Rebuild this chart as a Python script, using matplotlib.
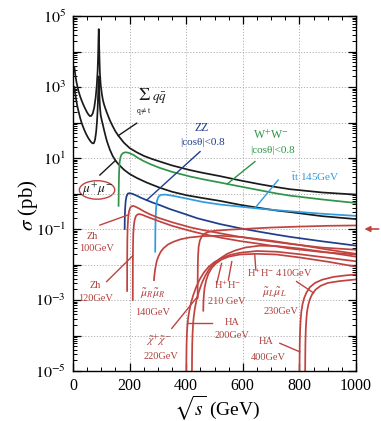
import matplotlib
matplotlib.use("Agg")
import matplotlib.pyplot as plt
from matplotlib.patches import Ellipse
from matplotlib.ticker import MultipleLocator, LogLocator, NullFormatter, FixedLocator

plt.rcParams['font.family'] = ['Liberation Serif', 'DejaVu Serif']
plt.rcParams['mathtext.fontset'] = 'stix'

# ---------------- data (sqrt(s) in GeV, sigma in pb) ----------------
had_x = [5, 8, 12, 16, 20, 25, 30, 35, 40, 45, 50, 55, 60, 65, 70, 75, 80, 84, 87, 89, 90, 91,
         92, 93, 95, 98, 102, 106, 110, 115, 120, 130, 140, 150, 160, 180, 200, 225, 250, 280,
         307, 350, 413, 460, 519, 590, 661, 720, 767, 880, 1000]
had_y = [3550, 2240, 1410, 1000, 741, 550, 427, 339, 275, 229, 191, 166, 151, 155, 182, 263,
         501, 1120, 2820, 8910, 22400, 42700,
         22400, 8910, 2510, 1120, 631, 417, 316, 240, 186, 117, 79.4, 56.2, 42.7, 26.9, 19.1,
         14.5, 11.5, 9.33, 7.94, 6.17, 4.57, 3.80, 3.09, 2.34, 1.82, 1.51, 1.32, 1.07, 0.93]

mumu_x = [5, 8, 12, 16, 20, 25, 30, 35, 40, 45, 50, 55, 60, 65, 70, 74, 78, 82, 85, 87, 89, 90,
          91, 92, 93, 95, 98, 102, 106, 110, 115, 120, 130, 140, 150, 160, 180, 200, 225, 260,
          307, 350, 402, 460, 519, 590, 661, 720, 767, 880, 1000]
mumu_y = [1000, 631, 398, 269, 200, 138, 100, 77.6, 61.7, 50.1, 41.7, 35.5, 30.9, 27.5, 25.7,
          26.3, 33.1, 56.2, 112, 224, 708, 1410,
          2000, 1410, 708, 282, 158, 112, 83.2, 60.3, 41.7, 29.5, 17.4, 11.5, 8.51, 6.76, 4.68,
          3.55, 2.75, 2.04, 1.45, 1.12, 0.89, 0.74, 0.62, 0.48, 0.39, 0.33, 0.30, 0.23, 0.19]

ww_x = [161, 161.5, 162, 163, 164.5, 167, 171, 177, 185, 195, 213, 230, 248, 275, 307, 350,
        413, 460, 519, 590, 661, 720, 767, 880, 1000]
ww_y = [0.45, 1.0, 2.0, 4.17, 7.08, 10, 12.3, 13.8, 14.5, 14.1, 12.3, 10, 8.32, 6.61, 5.25,
        4.07, 3.02, 2.51, 2.04, 1.58, 1.23, 1.0, 0.87, 0.68, 0.54]

zz_x = [182.5, 183, 184, 186, 189, 194, 200, 210, 225, 240, 260, 280, 307, 340, 380, 440, 519,
        590, 661, 720, 767, 880, 1000]
zz_y = [0.10, 0.20, 0.355, 0.60, 0.83, 1.0, 1.02, 0.98, 0.87, 0.76, 0.65, 0.56, 0.47, 0.37,
        0.29, 0.20, 0.138, 0.105, 0.083, 0.069, 0.060, 0.045, 0.034]

tt_x = [290.5, 291, 292, 294, 297, 302, 310, 325, 350, 400, 460, 519, 590, 661, 720, 767, 880,
        1000]
tt_y = [0.023, 0.089, 0.224, 0.417, 0.631, 0.813, 0.912, 0.933, 0.871, 0.724, 0.575, 0.49,
        0.427, 0.372, 0.339, 0.316, 0.269, 0.234]

zh100_x = [191.2, 191.5, 192, 193, 195, 198, 202, 207, 213, 220, 235, 250, 270, 300, 350, 413,
           460, 519, 590, 661, 767, 880, 1000]
zh100_y = [0.0018, 0.0158, 0.050, 0.112, 0.209, 0.316, 0.398, 0.437, 0.447, 0.427, 0.372,
           0.316, 0.263, 0.209, 0.155, 0.112, 0.093, 0.076, 0.060, 0.049, 0.038, 0.030, 0.026]

zh120_x = [211.2, 211.5, 212, 213, 215, 218, 222, 228, 235, 245, 260, 280, 307, 350, 413, 460,
           519, 590, 661, 767, 880, 1000]
zh120_y = [0.0010, 0.010, 0.0316, 0.0708, 0.126, 0.182, 0.229, 0.257, 0.263, 0.251, 0.224,
           0.195, 0.162, 0.123, 0.089, 0.072, 0.0575, 0.0457, 0.038, 0.0282, 0.0224, 0.0191]

smuR_x = [286, 288, 291, 296, 302, 310, 320, 335, 355, 380, 410, 460, 520, 600, 700, 800, 900,
          1000]
smuR_y = [0.00363, 0.00525, 0.00794, 0.0126, 0.017, 0.0229, 0.0288, 0.0363, 0.0437, 0.0513,
          0.0575, 0.0631, 0.0646, 0.0589, 0.0468, 0.0355, 0.0263, 0.020]

chi_x = [440.3, 440.6, 441, 442, 444, 448, 455, 465, 480, 500, 550, 600, 700, 800, 900, 1000]
chi_y = [0.00112, 0.00398, 0.0089, 0.0178, 0.0316, 0.0468, 0.0617, 0.0741, 0.0832, 0.0891,
         0.0955, 0.10, 0.11, 0.117, 0.123, 0.126]

ha200_x = [400.3, 400.7, 401.3, 402.5, 404.5, 407, 411, 417, 425, 435, 447, 462, 480, 500, 525,
           555, 590, 650, 720, 800, 900, 1000]
ha200_y = [1e-5, 2.5e-5, 5.6e-5, 1.12e-4, 2.0e-4, 3.16e-4, 5.0e-4, 8.3e-4, 1.38e-3, 2.29e-3,
           3.72e-3, 5.89e-3, 8.71e-3, 0.0117, 0.0151, 0.0186, 0.0214, 0.024, 0.0229, 0.0195,
           0.0155, 0.0123]

hpm210_x = [420.3, 420.7, 421.3, 422.5, 424.5, 427, 431, 437, 445, 455, 467, 482, 500, 520, 545,
            575, 610, 660, 720, 800, 900, 1000]
hpm210_y = [1e-5, 2.5e-5, 5.6e-5, 1.12e-4, 2.24e-4, 3.55e-4, 6.03e-4, 1.05e-3, 1.74e-3,
            2.95e-3, 4.79e-3, 7.59e-3, 0.011, 0.0148, 0.020, 0.0251, 0.0302, 0.0339, 0.0331,
            0.0282, 0.0219, 0.0166]

smuL_x = [460.3, 461, 462.5, 465, 470, 478, 490, 505, 525, 550, 590, 650, 720, 800, 900, 1000]
smuL_y = [5.0e-4, 8.9e-4, 1.41e-3, 2.19e-3, 3.47e-3, 5.37e-3, 7.94e-3, 0.0107, 0.0138, 0.0166,
          0.0191, 0.020, 0.0191, 0.0158, 0.012, 0.0087]

ha400_x = [800.3, 800.7, 801.3, 802.5, 804.5, 807, 811, 817, 825, 837, 855, 880, 920, 960, 1000]
ha400_y = [1e-5, 2.5e-5, 6.3e-5, 1.41e-4, 2.82e-4, 4.79e-4, 7.59e-4, 1.15e-3, 1.62e-3, 2.29e-3,
           3.02e-3, 3.72e-3, 4.47e-3, 4.9e-3, 5.25e-3]

hpm410_x = [820.3, 820.7, 821.3, 822.5, 824.5, 827, 831, 837, 845, 857, 875, 900, 940, 1000]
hpm410_y = [1e-5, 2.5e-5, 6.3e-5, 1.41e-4, 2.82e-4, 4.68e-4, 7.08e-4, 1.05e-3, 1.45e-3,
            1.95e-3, 2.51e-3, 3.02e-3, 3.39e-3, 3.8e-3]

x_ticks = [0, 200, 400, 600, 800, 1000]
y_ticks = [1e-5, 1e-4, 1e-3, 1e-2, 1e-1, 1e0, 1e1, 1e2, 1e3, 1e4, 1e5]
y_ticklabels = [r'$10^{-5}$', '', r'$10^{-3}$', '', r'$10^{-1}$', '', r'$10^{1}$', '',
                r'$10^{3}$', '', r'$10^{5}$']

# ---------------- style ----------------
BLACK = '#1a1a1a'
GREEN = '#2f9448'
LBLUE = '#2f9be0'
DBLUE = '#1f3d8c'
RED = '#c0433f'
TRED = '#b0403c'

fig = plt.figure(figsize=(3.81, 4.21), dpi=100)
ax = fig.add_axes([73 / 381, 50 / 421, 283 / 381, 355 / 421])
ax.set_yscale('log')
ax.set_xlim(0, 1000)
ax.set_ylim(1e-5, 1e5)

lw = 1.25
ax.plot(had_x, had_y, color=BLACK, lw=lw)
ax.plot(mumu_x, mumu_y, color=BLACK, lw=lw)
ax.plot(ww_x, ww_y, color=GREEN, lw=lw)
ax.plot(zz_x, zz_y, color=DBLUE, lw=lw)
ax.plot(tt_x, tt_y, color=LBLUE, lw=lw)
for xs, ys in [(zh100_x, zh100_y), (zh120_x, zh120_y), (smuR_x, smuR_y), (chi_x, chi_y),
               (ha200_x, ha200_y), (hpm210_x, hpm210_y), (smuL_x, smuL_y),
               (ha400_x, ha400_y), (hpm410_x, hpm410_y)]:
    ax.plot(xs, ys, color=RED, lw=lw)

# axes / ticks
ax.xaxis.set_major_locator(FixedLocator(x_ticks))
ax.xaxis.set_minor_locator(MultipleLocator(50))
ax.set_xticklabels([str(v) for v in x_ticks])
ax.yaxis.set_major_locator(FixedLocator(y_ticks))
ax.set_yticklabels(y_ticklabels)
ax.yaxis.set_minor_locator(LogLocator(base=10, subs=range(2, 10), numticks=20))
ax.yaxis.set_minor_formatter(NullFormatter())
ax.tick_params(which='both', direction='in', top=True, right=True, labelsize=11.5)
ax.tick_params(which='major', length=6, width=0.9, pad=5)
ax.tick_params(which='minor', length=3, width=0.7)
ax.grid(True, which='major', ls=(0, (1.5, 2)), color='#a8a8a8', lw=0.6)
for s in ax.spines.values():
    s.set_linewidth(1.0)

fig.text(28 / 381, 1 - 205 / 421, r'$\sigma$ (pb)', rotation=90, ha='center', va='center',
         fontsize=15)
fig.text(217 / 381, 1 - 408 / 421, r'$\sqrt{s}$ (GeV)', ha='center', va='center', fontsize=14)

# ---------------- annotations ----------------
def lab(x, L, s, c, fs=7.5):
    ax.text(x, 10 ** L, s, color=c, fontsize=fs, ha='center', va='center')

def ptr(x0, L0, x1, L1, c):
    ax.plot([x0, x1], [10 ** L0, 10 ** L1], color=c, lw=1.0)

lab(251, 2.75, r'$\Sigma$', BLACK, 13)
lab(251, 2.33, r'q$\neq$t', BLACK, 5.5)
lab(305, 2.68, r'$q\bar{q}$', BLACK, 9.5)
ptr(225, 1.98, 160, 1.63, BLACK)

lab(85, 0.13, r'$\mu^{+}\mu^{-}$', BLACK, 9.5)
ptr(95, 0.52, 150, 0.93, BLACK)
ax.add_patch(Ellipse((0.085, 0.51), 0.125, 0.052, transform=ax.transAxes, fill=False,
                     edgecolor=RED, lw=1.0))

lab(456, 1.85, 'ZZ', DBLUE, 8.5)
lab(459, 1.45, '|cos\u03b8|<0.8', DBLUE, 8)
ptr(449, 1.18, 260, -0.19, DBLUE)

lab(700, 1.65, r'W$^{+}$W$^{-}$', GREEN, 8.5)
lab(703, 1.20, '|cos\u03b8|<0.8', GREEN, 8)
ptr(643, 0.90, 545, 0.27, GREEN)

lab(855, 0.49, r'$\bar{\rm t}$t 145GeV', LBLUE, 8)
ptr(725, 0.38, 643, -0.41, LBLUE)

lab(67, -1.20, 'Zh', TRED)
lab(82, -1.56, '100GeV', TRED)
ptr(95, -0.89, 196, -0.60, RED)

lab(78, -2.58, 'Zh', TRED)
lab(80, -2.96, '120GeV', TRED)
ptr(119, -2.48, 211.5, -1.75, RED)

lab(283, -2.83, r'$\tilde{\mu}_{R}\tilde{\mu}_{R}$', TRED, 8.5)
lab(283, -3.34, '140GeV', TRED)

lab(304, -4.13, r'$\tilde{\chi}^{+}\tilde{\chi}^{-}$', TRED, 8.5)
lab(311, -4.58, '220GeV', TRED)
ptr(349, -3.80, 440.5, -2.90, RED)

lab(547, -2.58, r'H$^{+}$H$^{-}$', TRED)
lab(545, -3.03, '210 GeV', TRED)
ptr(508, -2.53, 525, -1.97, RED)
ptr(549, -2.44, 561, -1.92, RED)

lab(561, -3.62, 'HA', TRED)
lab(562, -4.01, '200GeV', TRED)
ptr(402.5, -3.66, 490, -3.66, RED)

lab(731, -2.24, r'H$^{+}$H$^{-}$ 410GeV', TRED)
ptr(646, -2.15, 642, -1.70, RED)
ptr(790, -2.48, 850, -2.80, RED)

lab(713, -2.80, r'$\tilde{\mu}_{L}\tilde{\mu}_{L}$', TRED, 8.5)
lab(735, -3.31, '230GeV', TRED)

lab(681, -4.18, 'HA', TRED)
lab(690, -4.63, '400GeV', TRED)
ptr(731, -4.22, 801.5, -4.46, RED)

ax.annotate('', xy=(1.02, 0.1), xytext=(1.09, 0.1), xycoords=('axes fraction', 'data'),
            textcoords=('axes fraction', 'data'), annotation_clip=False,
            arrowprops=dict(arrowstyle='-|>', color=RED, lw=1.2, mutation_scale=8))

fig.savefig('out.png', dpi=100)
